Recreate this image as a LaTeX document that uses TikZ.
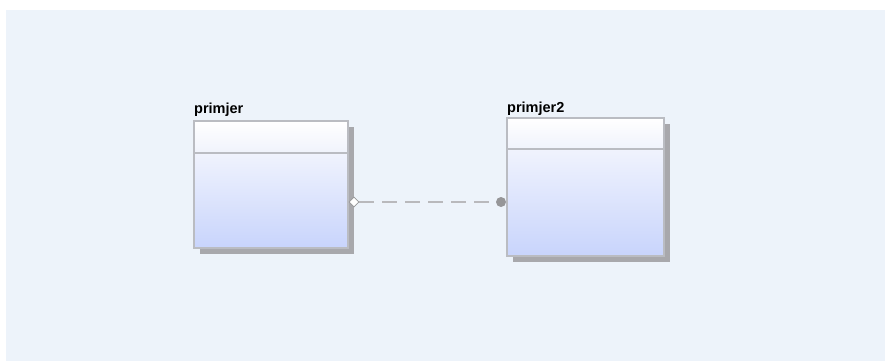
\documentclass[tikz,border=0pt]{standalone}
\usepackage{fontspec}
\setmainfont{Liberation Sans}
\usetikzlibrary{shapes.geometric}
\definecolor{bgblue}{RGB}{237,243,250}
\definecolor{shadowgray}{RGB}{168,168,172}
\definecolor{boxborder}{RGB}{186,188,194}
\definecolor{topA}{RGB}{255,255,255}
\definecolor{topB}{RGB}{240,243,252}
\definecolor{botA}{RGB}{240,243,253}
\definecolor{botB}{RGB}{200,212,252}
\definecolor{linegray}{RGB}{185,185,188}
\definecolor{dotgray}{RGB}{150,150,152}
\tikzset{
  shadowbox/.style={fill=shadowgray, draw=none},
  headpart/.style={top color=topA, bottom color=topB, draw=none},
  bodypart/.style={top color=botA, bottom color=botB, draw=none},
  boxframe/.style={draw=boxborder, line width=1.4pt},
  entlabel/.style={anchor=base west, inner sep=0pt, font=\fontsize{14.5}{16}\selectfont\bfseries},
  connector/.style={draw=linegray, line width=1.8pt, dash pattern=on 15pt off 8pt},
}
\begin{document}
\begin{tikzpicture}[x=1pt,y=-1pt]
\useasboundingbox (0,0) rectangle (885,361);
\fill[white] (0,0) rectangle (885,361);
\fill[bgblue] (6,10) rectangle (885,361);
% box 1
\fill[shadowbox] (200,127) rectangle (354,254);
\fill[headpart] (194,121) rectangle (348,153);
\fill[bodypart] (194,153) rectangle (348,248);
\draw[boxframe] (194,121) rectangle (348,248);
\draw[boxframe] (194,153) -- (348,153);
\node[entlabel] (l1) at (194,113) {primjer};
\coordinate (e1) at (348,202);
% box 2
\fill[shadowbox] (513,124) rectangle (670,262);
\fill[headpart] (507,118) rectangle (664,149);
\fill[bodypart] (507,149) rectangle (664,256);
\draw[boxframe] (507,118) rectangle (664,256);
\draw[boxframe] (507,149) -- (664,149);
\node[entlabel] (l2) at (507,112) {primjer2};
\coordinate (e2) at (507,202);
% connector
\node[diamond, draw=dotgray, fill=white, line width=0.6pt, minimum width=10pt, minimum height=10pt, inner sep=0pt] (d1) at (354,202) {};
\node[circle, fill=dotgray, minimum size=10pt, inner sep=0pt] (c2) at (501,202) {};
\draw[connector] (d1.east) -- (c2.west);
\end{tikzpicture}
\end{document}
